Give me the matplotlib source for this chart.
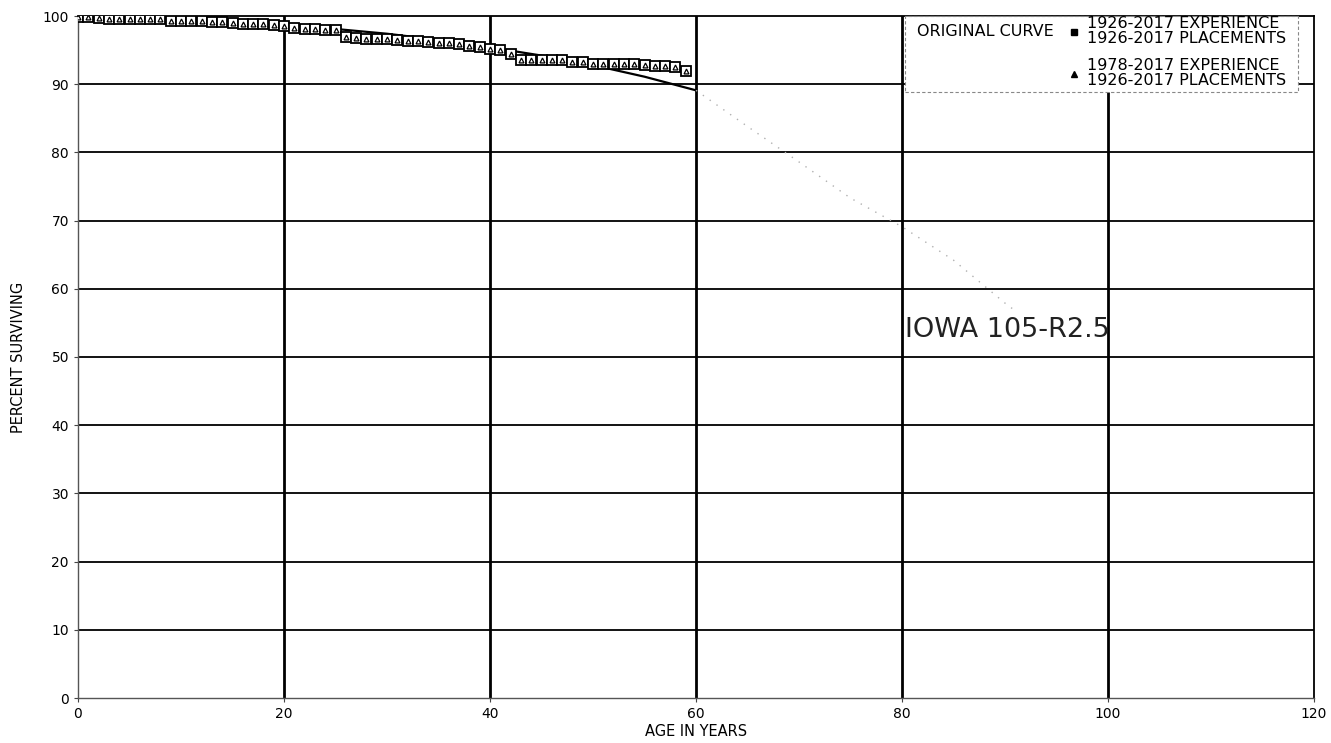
import matplotlib.pyplot as plt
from matplotlib.lines import Line2D
from matplotlib.patches import Rectangle

# survivor data
ages = list(range(0, 60))
exp_1926 = [99.8, 99.8, 99.7, 99.6, 99.6, 99.5, 99.5, 99.5, 99.5, 99.3,
            99.3, 99.2, 99.2, 99.1, 99.1, 99.0, 98.9, 98.9, 98.8, 98.7,
            98.6, 98.2, 98.1, 98.1, 98.0, 97.9, 96.9, 96.8, 96.7, 96.7,
            96.6, 96.5, 96.4, 96.4, 96.2, 96.1, 96.0, 95.9, 95.6, 95.4,
            95.1, 95.0, 94.4, 93.6, 93.6, 93.6, 93.5, 93.5, 93.3, 93.2,
            93.0, 93.0, 92.9, 92.9, 92.9, 92.8, 92.6, 92.6, 92.5, 91.9]
exp_1978 = [99.8, 99.8, 99.7, 99.6, 99.6, 99.5, 99.5, 99.5, 99.5, 99.3,
            99.3, 99.2, 99.2, 99.1, 99.1, 99.0, 98.9, 98.9, 98.8, 98.7,
            98.6, 98.2, 98.1, 98.1, 98.0, 97.9, 96.9, 96.8, 96.7, 96.7,
            96.6, 96.5, 96.4, 96.4, 96.2, 96.1, 96.0, 95.9, 95.6, 95.4,
            95.1, 95.0, 94.4, 93.6, 93.6, 93.6, 93.5, 93.5, 93.3, 93.2,
            93.0, 93.0, 92.9, 92.9, 92.9, 92.8, 92.6, 92.6, 92.5, 91.9]

# iowa curve, solid part and the faint dotted continuation
curve_age = [0, 5, 10, 15, 20, 25, 30, 35, 40, 45, 50, 55, 60]
curve_pct = [100.0, 99.9, 99.6, 99.2, 98.7, 98.1, 97.4, 96.5, 95.4, 94.2, 92.8, 91.1, 89.1]
ext_age = [60, 65, 70, 75, 80, 85, 90, 90.8]
ext_pct = [89.1, 83.8, 78.6, 73.3, 69.1, 64.2, 57.9, 57.0]

xticks = [0, 20, 40, 60, 80, 100, 120]
yticks = [0, 10, 20, 30, 40, 50, 60, 70, 80, 90, 100]

W, H = 1331, 743
fig = plt.figure(figsize=(W / 100, H / 100), dpi=100)
ax = fig.add_axes([78 / W, 1 - 698 / H, (1314 - 78) / W, (698 - 16) / H])

ax.set_xlim(0, 120)
ax.set_ylim(0, 100)
ax.set_xticks(xticks)
ax.set_yticks(yticks)
ax.tick_params(labelsize=10, length=3, width=0.8, color='#444')
for lab in ax.get_xticklabels() + ax.get_yticklabels():
    lab.set_fontfamily('DejaVu Sans')

# grid
for x in xticks[1:-1]:
    ax.axvline(x, color='black', lw=2.0, zorder=1)
for y in yticks[1:-1]:
    ax.axhline(y, color='black', lw=1.3, zorder=1)
for side in ['left', 'bottom']:
    ax.spines[side].set_color('#555')
    ax.spines[side].set_linewidth(1.0)
for side in ['top', 'right']:
    ax.spines[side].set_color('black')
    ax.spines[side].set_linewidth(1.3)

ax.plot(curve_age, curve_pct, color='black', lw=1.6, zorder=3)
ax.plot(ext_age, ext_pct, color='#b0b0b0', lw=1.0, ls=(0, (1, 5)), zorder=3)

ax.plot(ages, exp_1926, ls='none', marker='s', ms=7, mfc='white', mec='black',
        mew=1.3, zorder=4)
ax.plot(ages, exp_1978, ls='none', marker='^', ms=3.5, mfc='white', mec='black',
        mew=0.9, zorder=5)

ax.text(80.3, 54, 'IOWA 105-R2.5', fontsize=19.5, family='DejaVu Sans',
        va='center', ha='left', color='#222', zorder=6)

ax.set_xlabel('AGE IN YEARS', fontsize=10.5, family='DejaVu Sans', labelpad=2)
ax.set_ylabel('PERCENT SURVIVING', fontsize=10.5, family='DejaVu Sans', labelpad=12)

# legend box
box = Rectangle((905 / W, 1 - 92 / H), (1298 - 905) / W, (92 - 16) / H,
                transform=fig.transFigure, facecolor='white', edgecolor='#888',
                lw=0.8, ls=(0, (3, 2)), zorder=10)
fig.patches.append(box)
fig.text(917 / W, 1 - 32 / H, 'ORIGINAL CURVE', fontsize=11.5, family='DejaVu Sans',
         va='center', ha='left', zorder=11)

handles = [Line2D([], [], ls='none', marker='s', ms=4.5, color='black'),
           Line2D([], [], ls='none', marker='^', ms=4, color='black')]
labels = ['1926-2017 EXPERIENCE\n1926-2017 PLACEMENTS',
          '1978-2017 EXPERIENCE\n1926-2017 PLACEMENTS']
leg = fig.legend(handles, labels, loc='upper left', bbox_to_anchor=(1064 / W, 1 - 13 / H),
                 frameon=False, handlelength=0.8, handletextpad=0.45,
                 labelspacing=0.75, borderaxespad=0, borderpad=0.2,
                 prop={'family': 'DejaVu Sans', 'size': 11.5})
for t in leg.get_texts():
    t.set_linespacing(1.0)
leg.set_zorder(12)

fig.savefig('out.png', dpi=100)
